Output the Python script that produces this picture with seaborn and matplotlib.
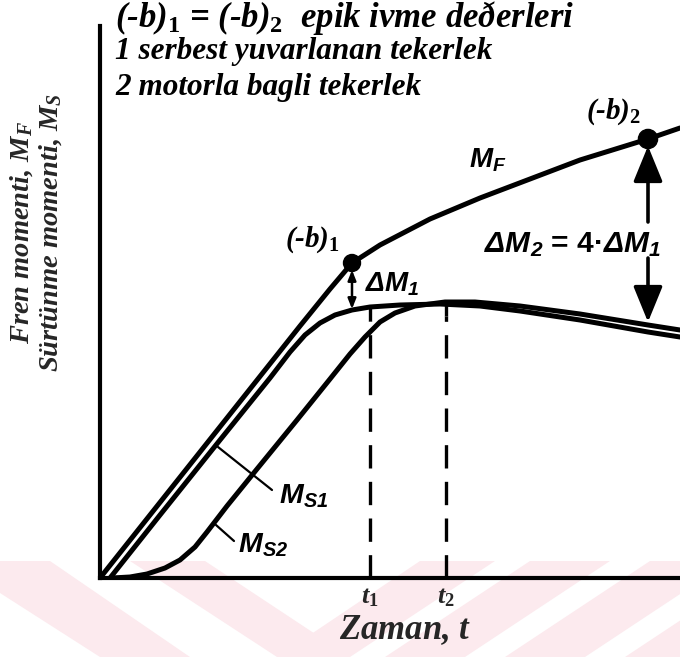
import numpy as np
import pandas as pd
import matplotlib
matplotlib.use("Agg")
import matplotlib.pyplot as plt
from matplotlib.patches import Polygon
import seaborn as sns

# --- curve data (time axis t, moment axis M, arbitrary units) ---
t_F = [0, 50, 100, 150, 200, 230, 252, 266, 280, 330, 380, 430, 480, 548, 580]
M_F = [0, 63, 126, 189, 252, 289, 315, 324, 333, 359, 380, 399, 418, 439, 450]

t_S1 = [10, 60, 120, 170, 190, 205, 220, 235, 252, 270, 300, 340, 380, 420, 480, 548, 580]
M_S1 = [0, 63, 138, 200, 226, 243, 255, 263, 268, 271, 273, 274, 272, 267, 258, 246, 241]

t_S2 = [12, 30, 47, 65, 80, 95, 107, 127, 157, 197, 230, 250, 265, 280, 295, 315, 345,
        375, 420, 480, 548, 580]
M_S2 = [0, 1, 4, 10, 18, 31, 46, 72, 109, 158, 199, 224, 241, 256, 265, 272, 276,
        276, 272, 264, 253, 248]

# braking points and time marks
t_b = [252, 548]
M_b = [315, 439]
t_marks = [270, 346]
t_mark_top = [271, 276]
tick_labels = ["$t_1$", "$t_2$"]

sns.set_theme(style="white")
plt.rcParams["font.family"] = ["Liberation Serif", "DejaVu Serif"]
plt.rcParams["mathtext.fontset"] = "custom"
plt.rcParams["mathtext.it"] = "Liberation Serif:italic:bold"
plt.rcParams["mathtext.rm"] = "Liberation Serif:bold"
plt.rcParams["mathtext.bf"] = "Liberation Serif:italic:bold"
plt.rcParams["mathtext.sf"] = "Liberation Sans:italic:bold"

W, H = 680, 657
fig = plt.figure(figsize=(W / 100, H / 100), dpi=100)
fig.patch.set_facecolor("white")

# faint chevron band along the bottom edge
pink = "#fceaee"
y0, y1 = H - 561, 0
bands = [
    [(-50, y0), (50, y0), (190, y1), (100, y1)],
    [(130, y0), (205, y0), (350, y1), (277, y1)],
    [(420, y0), (495, y0), (350, y1), (277, y1)],
    [(530, y0), (610, y0), (465, y1), (385, y1)],
    [(650, y0), (730, y0), (585, y1), (505, y1)],
    [(770, y0), (850, y0), (705, y1), (625, y1)],
]
for b in bands:
    fig.patches.append(Polygon(b, closed=True, facecolor=pink, edgecolor="none",
                               transform=None, zorder=-5))

ax = fig.add_axes([100 / W, (H - 578) / H, 580 / W, 552 / H])
ax.set_facecolor("none")
ax.set_xlim(0, 580)
ax.set_ylim(0, 552)

lw = 3.6
sns.lineplot(x=t_F, y=M_F, ax=ax, color="black", linewidth=lw, sort=False)
sns.lineplot(x=t_S1, y=M_S1, ax=ax, color="black", linewidth=lw, sort=False)
sns.lineplot(x=t_S2, y=M_S2, ax=ax, color="black", linewidth=lw, sort=False)
sns.scatterplot(x=t_b, y=M_b, ax=ax, color="black", size=[150, 180],
                sizes=(150, 190), legend=False, zorder=5, edgecolor="black")

# dashed time markers
for tx, top in zip(t_marks, t_mark_top):
    ax.plot([tx, tx], [top, top - 14], color="black", lw=2.4, solid_capstyle="butt")
    ax.plot([tx, tx], [0, top - 14], color="black", lw=2.4, dashes=(7, 4))

# delta M1 double arrow
ax.annotate("", xy=(252, 308), xytext=(252, 269),
            arrowprops=dict(arrowstyle="<|-|>,head_length=0.5,head_width=0.2",
                            color="black", lw=1.8, shrinkA=0, shrinkB=0))
# delta M2 split arrow
ax.annotate("", xy=(548, 432), xytext=(548, 356),
            arrowprops=dict(arrowstyle="-|>,head_length=1.1,head_width=0.45",
                            color="black", lw=2.6, shrinkA=0, shrinkB=0,
                            mutation_scale=20))
ax.annotate("", xy=(548, 256), xytext=(548, 320),
            arrowprops=dict(arrowstyle="-|>,head_length=1.1,head_width=0.45",
                            color="black", lw=2.6, shrinkA=0, shrinkB=0,
                            mutation_scale=20))

# leader lines to curve labels
ax.plot([118, 172], [131, 88], color="black", lw=1.6)
ax.plot([116, 134], [53, 37], color="black", lw=1.6)

txt = dict(fontfamily="Liberation Serif", fontweight="bold", fontstyle="italic",
           color="black", ha="center", va="center")
sans = dict(fontfamily="Liberation Sans", fontweight="bold", color="black",
            ha="center", va="center")
ax.text(213, 338, "(-b)${}_1$", fontsize=21, **txt)
ax.text(514, 466, "(-b)${}_2$", fontsize=21, **txt)
ax.text(388, 418, r"$\mathsf{M_F}$", fontsize=20, **sans)
ax.text(472, 333, r"$\mathsf{\Delta M_2}$ = 4·$\mathsf{\Delta M_1}$", fontsize=21.5, **sans)
ax.text(292, 294, r"$\mathsf{\Delta M_1}$", fontsize=20, **sans)
ax.text(204, 82, r"$\mathsf{M_{S1}}$", fontsize=20.5, **sans)
ax.text(163, 33, r"$\mathsf{M_{S2}}$", fontsize=20.5, **sans)

# axes styling
for side in ["top", "right"]:
    ax.spines[side].set_visible(False)
for side in ["left", "bottom"]:
    ax.spines[side].set_color("black")
    ax.spines[side].set_linewidth(3.0)
ax.set_yticks([])
ax.set_xticks(t_marks)
ax.set_xticklabels(tick_labels, fontsize=19)
ax.tick_params(axis="x", length=0, pad=6)

ax.set_xlabel("Zaman, $t$", fontsize=25, fontweight="bold", fontstyle="italic")
ax.xaxis.set_label_coords((405 - 100) / 580, (578 - 630) / 552)
ax.xaxis.label.set_va("center")
ax.set_ylabel("Fren momenti, $M_F$\nSürtünme momenti, $M_S$", fontsize=20.5,
              fontweight="bold", fontstyle="italic", linespacing=1.12)
ax.yaxis.set_label_coords((36 - 100) / 580, (578 - 232) / 552)
ax.yaxis.label.set_va("center")

# header lines
head = dict(fontfamily="Liberation Serif", fontweight="bold", fontstyle="italic",
            color="black", ha="left", va="center")
fig.text(115 / W, 1 - 18 / H, "(-b)${}_1$ = (-b)${}_2$  epik ivme deðerleri",
         fontsize=25, **head)
fig.text(115 / W, 1 - 52 / H, "1 serbest yuvarlanan tekerlek", fontsize=22.5, **head)
fig.text(115 / W, 1 - 88 / H, "2 motorla bagli tekerlek", fontsize=22.5, **head)

fig.savefig("out.png", dpi=100, facecolor="white")
